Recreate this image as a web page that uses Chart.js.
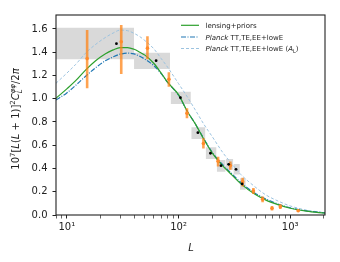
<!DOCTYPE html>
<html>
<head>
<meta charset="utf-8">
<script src="https://cdn.jsdelivr.net/npm/chart.js@4/dist/chart.umd.min.js"></script>
<style>
  html, body { margin: 0; padding: 0; background: #fff; }
</style>
</head>
<body>
<canvas id="lensChart" width="340" height="262"></canvas>
<script>
// gray bandpower boxes
const binLo = [8, 40, 85, 130, 175, 220, 265, 310, 355];
const binHi = [40, 84, 129, 174, 219, 264, 309, 354, 400];
const boxLow = [1.34, 1.256, 0.955, 0.654, 0.482, 0.372, 0.39, 0.348, 0.217];
const boxHigh = [1.61, 1.396, 1.061, 0.754, 0.582, 0.473, 0.482, 0.438, 0.317];

// black points
const dotL = [27.8, 63, 104, 149, 193, 240, 281, 327, 371];
const dotVal = [1.473, 1.327, 1.009, 0.708, 0.531, 0.424, 0.436, 0.393, 0.267];

// orange points + error bars
const orangeL = [15.2, 30.7, 52.7, 82, 119, 167, 226, 291, 375, 468, 566, 687, 815, 1178];
const orangeVal = [1.345, 1.49, 1.435, 1.167, 0.875, 0.615, 0.463, 0.425, 0.287, 0.206, 0.135, 0.058, 0.072, 0.037];
const orangeLow = [1.09, 1.213, 1.339, 1.104, 0.832, 0.571, 0.418, 0.39, 0.245, 0.18, 0.11, 0.038, 0.052, 0.027];
const orangeHigh = [1.59, 1.635, 1.537, 1.227, 0.918, 0.66, 0.50, 0.46, 0.32, 0.232, 0.16, 0.078, 0.092, 0.047];

// model curves
const curveL = [8, 10, 12, 15, 18, 22, 26, 30, 35, 40, 45, 50, 60, 70, 80, 100, 120, 140, 170, 200, 250, 300, 360, 480, 600, 800, 1000, 1400, 2048];
const lensingPriors = [1.004, 1.085, 1.155, 1.255, 1.325, 1.385, 1.42, 1.44, 1.44, 1.425, 1.40, 1.375, 1.305, 1.22, 1.14, 1.035, 0.89, 0.79, 0.645, 0.535, 0.42, 0.345, 0.27, 0.18, 0.13, 0.085, 0.058, 0.033, 0.016];
const planckBase = [0.989, 1.05, 1.115, 1.20, 1.265, 1.325, 1.36, 1.383, 1.392, 1.385, 1.365, 1.34, 1.285, 1.215, 1.14, 1.03, 0.89, 0.79, 0.65, 0.54, 0.43, 0.355, 0.28, 0.19, 0.14, 0.09, 0.062, 0.035, 0.018];
const planckAL = [1.133, 1.22, 1.295, 1.40, 1.465, 1.525, 1.565, 1.59, 1.585, 1.562, 1.534, 1.50, 1.43, 1.345, 1.27, 1.13, 1.015, 0.91, 0.775, 0.675, 0.535, 0.44, 0.35, 0.245, 0.175, 0.115, 0.078, 0.042, 0.02];

const xTicks = [8, 9, 10, 20, 30, 40, 50, 60, 70, 80, 90, 100, 200, 300, 400, 500, 600, 700, 800, 900, 1000, 2000];
const xLabels = { 10: '10¹', 100: '10²', 1000: '10³' };
const yTicks = [0, 0.2, 0.4, 0.6, 0.8, 1.0, 1.2, 1.4, 1.6];

const pts = (xs, ys) => xs.map((x, i) => ({ x: x, y: ys[i] }));

const datasets = [];
binLo.forEach((lo, i) => {
  datasets.push({
    data: [{ x: lo, y: boxHigh[i] }, { x: binHi[i], y: boxHigh[i] }],
    showLine: true, borderWidth: 0, pointRadius: 0,
    fill: { value: boxLow[i] }, backgroundColor: '#d9d9d9', order: 10
  });
});
datasets.push({
  label: 'Planck TT,TE,EE+lowE (A_L)', data: pts(curveL, planckAL), showLine: true,
  borderColor: '#9cc3e0', borderWidth: 1, borderDash: [3, 2], pointRadius: 0,
  cubicInterpolationMode: 'monotone', order: 6
});
datasets.push({
  label: 'Planck TT,TE,EE+lowE', data: pts(curveL, planckBase), showLine: true,
  borderColor: '#1f77b4', borderWidth: 1.2, borderDash: [5, 1.5, 1, 1.5], pointRadius: 0,
  cubicInterpolationMode: 'monotone', order: 5
});
datasets.push({
  label: 'lensing+priors', data: pts(curveL, lensingPriors), showLine: true,
  borderColor: '#2ca02c', borderWidth: 1.2, pointRadius: 0,
  cubicInterpolationMode: 'monotone', order: 4
});
const errData = [];
orangeL.forEach((l, i) => {
  errData.push({ x: l, y: orangeLow[i] }, { x: l, y: orangeHigh[i] }, { x: l, y: null });
});
datasets.push({
  data: errData, showLine: true, spanGaps: false, borderColor: 'rgba(255,127,14,0.72)',
  borderWidth: 2.6, pointRadius: 0, order: 3
});
datasets.push({
  data: pts(orangeL, orangeVal), pointRadius: 1.8, pointBorderWidth: 0,
  pointBackgroundColor: '#ff8a2a', order: 2
});
datasets.push({
  data: pts(dotL, dotVal), pointRadius: 1.4, pointBorderWidth: 0,
  pointBackgroundColor: '#000', order: 1
});

function drawRich(ctx, x, y, parts, doDraw) {
  let cx = x;
  for (const p of parts) {
    ctx.font = p.f;
    const w = ctx.measureText(p.t).width;
    if (doDraw) ctx.fillText(p.t, cx, y + (p.dy || 0));
    if (!p.hold) cx += w;
  }
  return cx - x;
}

const FAM = '"DejaVu Sans"';
const decor = {
  id: 'decor',
  afterDraw(chart) {
    const ctx = chart.ctx, a = chart.chartArea;
    ctx.save();
    ctx.strokeStyle = '#222';
    ctx.lineWidth = 1.1;
    ctx.strokeRect(a.left, a.top, a.right - a.left, a.bottom - a.top);

    ctx.fillStyle = '#222';
    ctx.textBaseline = 'alphabetic';
    // x label
    ctx.font = 'italic 10px ' + FAM;
    ctx.textAlign = 'center';
    ctx.fillText('L', (a.left + a.right) / 2 + 0.5, 251);
    ctx.textAlign = 'left';

    // y label
    const n = '10px ' + FAM, it = 'italic 10px ' + FAM, s = '7px ' + FAM, si = 'italic 7px ' + FAM;
    const yParts = [
      { t: '10', f: n }, { t: '7', f: s, dy: -4 }, { t: '[', f: n }, { t: 'L', f: it },
      { t: '(', f: n }, { t: 'L', f: it }, { t: ' + ', f: n }, { t: '1)]', f: n },
      { t: '2', f: s, dy: -4 }, { t: 'C', f: it }, { t: 'L', f: si, dy: 2.5, hold: true },
      { t: 'φφ', f: si, dy: -4.5 }, { t: '/2', f: n }, { t: 'π', f: it }
    ];
    const w = drawRich(ctx, 0, 0, yParts, false);
    ctx.save();
    ctx.translate(19, 119);
    ctx.rotate(-Math.PI / 2);
    drawRich(ctx, -w / 2, 0, yParts, true);
    ctx.restore();

    // legend
    const lx0 = 181, lx1 = 199, tx = 205.5;
    const rows = [25.3, 37, 48.5];
    const ln = '7px ' + FAM, li = 'italic 7px ' + FAM;
    const handles = [
      { c: '#2ca02c', d: [], w: 1.2 },
      { c: '#1f77b4', d: [5, 1.5, 1, 1.5], w: 1.2 },
      { c: '#9cc3e0', d: [3, 2], w: 1 }
    ];
    handles.forEach((h, i) => {
      ctx.beginPath();
      ctx.setLineDash(h.d);
      ctx.strokeStyle = h.c;
      ctx.lineWidth = h.w;
      ctx.moveTo(lx0, rows[i]);
      ctx.lineTo(lx1, rows[i]);
      ctx.stroke();
    });
    ctx.setLineDash([]);
    ctx.fillStyle = '#222';
    drawRich(ctx, tx, rows[0] + 2.5, [{ t: 'lensing+priors', f: ln }], true);
    drawRich(ctx, tx, rows[1] + 2.5, [{ t: 'Planck', f: li }, { t: ' TT,TE,EE+lowE', f: ln }], true);
    drawRich(ctx, tx, rows[2] + 2.5, [
      { t: 'Planck', f: li }, { t: ' TT,TE,EE+lowE (', f: ln }, { t: 'A', f: li },
      { t: 'L', f: '5px ' + FAM, dy: 1.5 }, { t: ')', f: ln }
    ], true);
    ctx.restore();
  }
};

new Chart(document.getElementById('lensChart').getContext('2d'), {
  type: 'scatter',
  data: { datasets: datasets },
  options: {
    responsive: false,
    animation: false,
    devicePixelRatio: 1,
    layout: { padding: { top: 15, right: 15, left: 0, bottom: 0 } },
    plugins: { legend: { display: false }, tooltip: { enabled: false } },
    scales: {
      x: {
        type: 'logarithmic', min: 8, max: 2048,
        afterBuildTicks: sc => { sc.ticks = xTicks.map(v => ({ value: v, major: !!xLabels[v] })); },
        afterFit: sc => { sc.height = 47; },
        ticks: {
          autoSkip: false, maxRotation: 0, padding: 3, color: '#222',
          font: { family: 'DejaVu Sans', size: 10 },
          callback: v => xLabels[v] || ''
        },
        grid: {
          drawOnChartArea: false, tickLength: 3.5, tickColor: '#222',
          tickWidth: c => (c.tick && c.tick.major ? 1 : 0.7)
        },
        border: { display: false }
      },
      y: {
        min: 0, max: 1.72,
        afterBuildTicks: sc => { sc.ticks = yTicks.map(v => ({ value: v })); },
        afterFit: sc => { sc.width = 56; },
        ticks: {
          padding: 5, color: '#222',
          font: { family: 'DejaVu Sans', size: 10 },
          callback: v => v.toFixed(1)
        },
        grid: { drawOnChartArea: false, tickLength: 3.5, tickColor: '#222', tickWidth: 1 },
        border: { display: false }
      }
    }
  },
  plugins: [decor]
});
</script>
</body>
</html>
